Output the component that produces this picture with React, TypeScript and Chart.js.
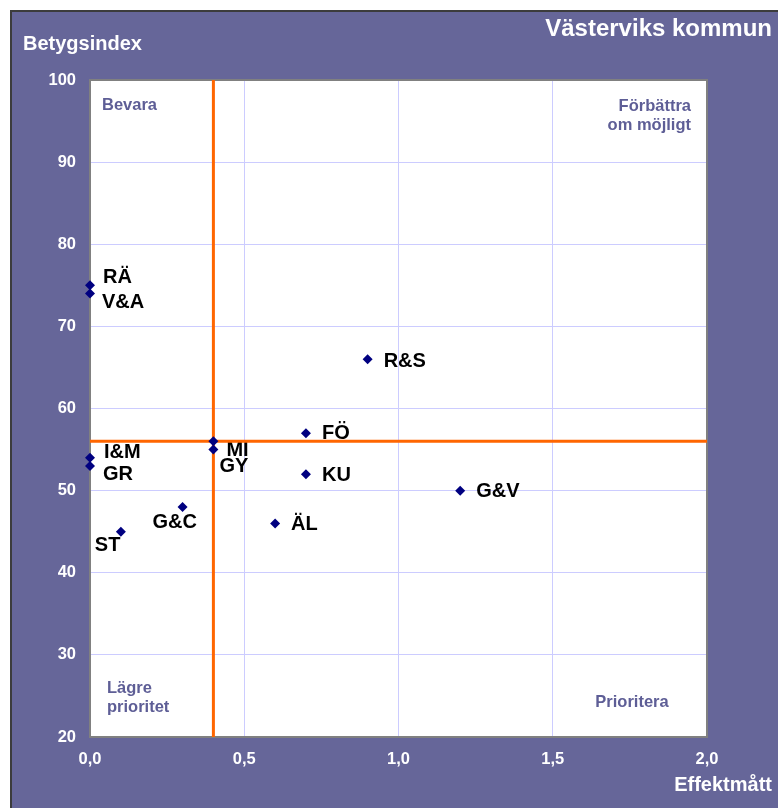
import React, { useEffect, useRef } from "react";
import { Chart, registerables } from "chart.js";

Chart.register(...registerables);

const labels = ["RÄ", "V&A", "I&M", "GR", "MI", "GY", "FÖ", "KU", "R&S", "G&V", "ÄL", "G&C", "ST"];
const effektmatt = [0, 0, 0, 0, 0.4, 0.4, 0.7, 0.7, 0.9, 1.2, 0.6, 0.3, 0.1];
const betygsindex = [75, 74, 54, 53, 56, 55, 57, 52, 66, 50, 46, 48, 45];
const refX = 0.4;
const refY = 56;
const xTicks = [0, 0.5, 1, 1.5, 2];
const yTicks = [20, 30, 40, 50, 60, 70, 80, 90, 100];

const title = "Västerviks kommun";
const yTitle = "Betygsindex";
const xTitle = "Effektmått";

// label offsets (px) relative to the point: [dx, dy]
const labelOffsets: [number, number][] = [
  [13, -8], [12, 9], [14, -5], [13, 8], [13, 9], [6, 17], [16, 0], [16, 1], [16, 2], [16, 1], [16, 1], [-30, 15], [-26, 14],
];

const FONT = '"Liberation Sans", Arial, sans-serif';
const PURPLE = "#666699";
const QUAD = "#5e5e96";

export default function App() {
  const ref = useRef<HTMLCanvasElement>(null);
  useEffect(() => {
    if (!ref.current) return;
    const deco = {
      id: "deco",
      beforeDraw(chart: any) {
        const { ctx, chartArea: a, width, height } = chart;
        ctx.save();
        ctx.fillStyle = PURPLE;
        ctx.fillRect(10, 10, width - 10, height - 10);
        ctx.strokeStyle = "#3c3c3c";
        ctx.lineWidth = 2;
        ctx.beginPath();
        ctx.moveTo(11, height);
        ctx.lineTo(11, 11);
        ctx.lineTo(width, 11);
        ctx.stroke();
        ctx.fillStyle = "#ffffff";
        ctx.fillRect(a.left, a.top, a.right - a.left, a.bottom - a.top);
        ctx.restore();
      },
      beforeDatasetsDraw(chart: any) {
        const { ctx, chartArea: a } = chart;
        const xs = chart.scales.x;
        const ys = chart.scales.y;
        ctx.save();
        // border
        ctx.strokeStyle = "#808080";
        ctx.lineWidth = 2;
        ctx.strokeRect(a.left, a.top, a.right - a.left, a.bottom - a.top);
        // point labels
        ctx.fillStyle = "#000000";
        ctx.font = `bold 20px ${FONT}`;
        ctx.textAlign = "left";
        ctx.textBaseline = "middle";
        labels.forEach((l, i) => {
          const px = xs.getPixelForValue(effektmatt[i]);
          const py = ys.getPixelForValue(betygsindex[i]);
          const [dx, dy] = labelOffsets[i];
          ctx.fillText(l, px + dx, py + dy);
        });
        // reference lines
        ctx.strokeStyle = "#ff6600";
        ctx.lineWidth = 3;
        const rx = xs.getPixelForValue(refX);
        const ry = ys.getPixelForValue(refY);
        ctx.beginPath();
        ctx.moveTo(rx, a.top);
        ctx.lineTo(rx, a.bottom);
        ctx.moveTo(a.left, ry);
        ctx.lineTo(a.right, ry);
        ctx.stroke();
        // quadrant labels
        ctx.fillStyle = QUAD;
        ctx.font = `bold 16.5px ${FONT}`;
        ctx.textAlign = "left";
        ctx.fillText("Bevara", a.left + 12, a.top + 25);
        ctx.fillText("Lägre", a.left + 17, a.bottom - 49);
        ctx.fillText("prioritet", a.left + 17, a.bottom - 30);
        ctx.textAlign = "right";
        ctx.fillText("Förbättra", a.right - 16, a.top + 26);
        ctx.fillText("om möjligt", a.right - 16, a.top + 45);
        ctx.textAlign = "center";
        ctx.fillText("Prioritera", a.left + 542, a.bottom - 35);
        ctx.restore();
      },
      afterDraw(chart: any) {
        const { ctx } = chart;
        ctx.save();
        ctx.textBaseline = "middle";
        ctx.fillStyle = "#ffffff";
        ctx.font = `bold 24px ${FONT}`;
        ctx.textAlign = "right";
        ctx.fillText(title, 772, 29);
        ctx.font = `bold 20px ${FONT}`;
        ctx.textAlign = "left";
        ctx.fillText(yTitle, 23, 44);
        ctx.textAlign = "right";
        ctx.fillText(xTitle, 772, 785);
        ctx.restore();
      },
    };
    const chart = new Chart(ref.current, {
      type: "scatter",
      data: {
        datasets: [
          {
            data: effektmatt.map((x, i) => ({ x, y: betygsindex[i] })),
            pointStyle: "rectRot",
            pointRadius: 5,
            pointHoverRadius: 5,
            backgroundColor: "#000080",
            borderColor: "#000080",
            borderWidth: 0,
            clip: false,
          } as any,
        ],
      },
      options: {
        animation: false,
        responsive: true,
        maintainAspectRatio: false,
        layout: { padding: { top: 80, right: 71, left: 0, bottom: 0 } },
        plugins: { legend: { display: false }, tooltip: { enabled: false } },
        scales: {
          x: {
            type: "linear",
            min: 0,
            max: 2,
            afterFit: (s: any) => { s.height = 71; },
            afterBuildTicks: (s: any) => { s.ticks = xTicks.map((v) => ({ value: v })); },
            grid: { color: "#ccccff", lineWidth: 1, drawTicks: false },
            border: { display: false },
            ticks: {
              color: "#ffffff",
              font: { family: FONT, size: 16.5, weight: "bold" },
              padding: 13,
              maxRotation: 0,
              callback: (v: any) => Number(v).toFixed(1).replace(".", ","),
            },
          },
          y: {
            type: "linear",
            min: 20,
            max: 100,
            afterFit: (s: any) => { s.width = 90; },
            afterBuildTicks: (s: any) => { s.ticks = yTicks.map((v) => ({ value: v })); },
            grid: { color: "#ccccff", lineWidth: 1, drawTicks: false },
            border: { display: false },
            ticks: {
              color: "#ffffff",
              font: { family: FONT, size: 16.5, weight: "bold" },
              padding: 14,
              callback: (v: any) => String(v),
            },
          },
        },
      },
      plugins: [deco],
    });
    return () => chart.destroy();
  }, []);
  return (
    <div style={{ position: "fixed", left: 0, top: 0, width: 778, height: 808 }}>
      <canvas ref={ref} />
    </div>
  );
}
